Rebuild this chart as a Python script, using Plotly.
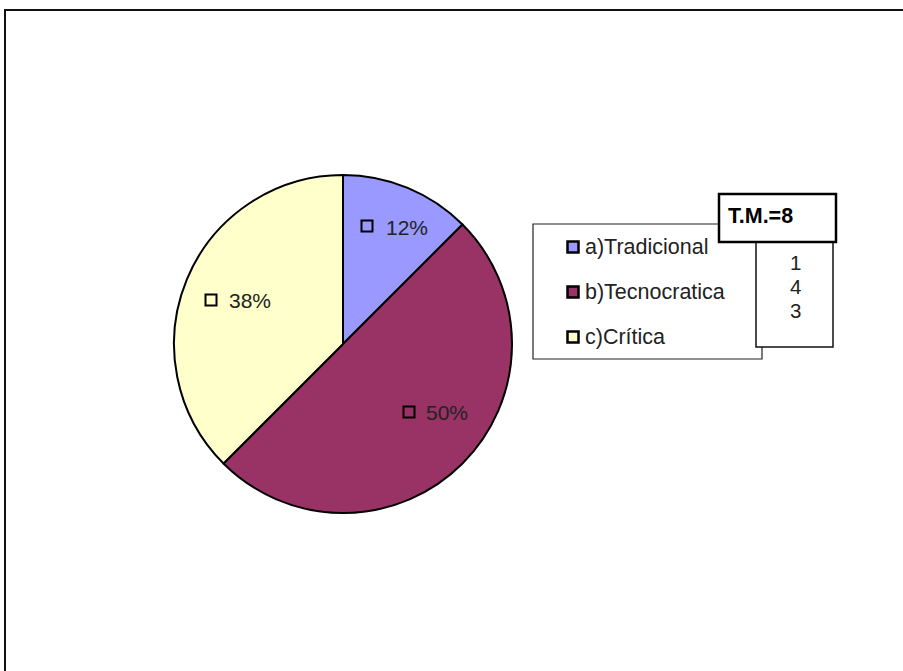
import plotly.graph_objects as go

W, H = 903, 671

categories = ["a)Tradicional", "b)Tecnocratica", "c)Crítica"]
values = [1, 4, 3]
colors = ["#9999FF", "#993366", "#FFFFCC"]
total_label = "T.M.="
total = sum(values)
pct_labels = [f"{round(100 * v / total)}%" for v in values]

FONT = "Liberation Sans, Arial, sans-serif"
FS = 21.5


def X(px):
    return px / W


def Y(py):
    return 1 - py / H


fig = go.Figure()
fig.add_trace(go.Pie(
    labels=categories,
    values=values,
    sort=False,
    direction="clockwise",
    rotation=0,
    marker=dict(colors=colors, line=dict(color="#000000", width=2)),
    textinfo="none",
    hoverinfo="label+value+percent",
    showlegend=False,
    domain=dict(x=[X(174), X(512)], y=[Y(513), Y(175)]),
))

shapes = []
annotations = []

# outer chart border
shapes.append(dict(type="rect", xref="paper", yref="paper",
                   x0=X(5), x1=X(915), y0=Y(690), y1=Y(10),
                   line=dict(color="#111111", width=2), fillcolor="rgba(0,0,0,0)"))

# data labels (square key + percent), in category order a, b, c
label_pos = [(367, 226, 384), (409, 412, 424), (211, 300, 227)]
for (sx, sy, tx), col, txt in zip(label_pos, colors, pct_labels):
    shapes.append(dict(type="rect", xref="paper", yref="paper",
                       x0=X(sx - 5.5), x1=X(sx + 5.5), y0=Y(sy + 5.5), y1=Y(sy - 5.5),
                       line=dict(color="#000000", width=2), fillcolor=col))
    annotations.append(dict(xref="paper", yref="paper", x=X(tx), y=Y(sy + 1),
                            text=txt, showarrow=False, xanchor="left", yanchor="middle",
                            font=dict(family=FONT, size=FS - 0.5, color="#222222")))

# legend box
shapes.append(dict(type="rect", xref="paper", yref="paper",
                   x0=X(533), x1=X(762), y0=Y(359), y1=Y(224),
                   line=dict(color="#222222", width=1.2), fillcolor="#FFFFFF"))
legend_rows = [247, 292, 337]
for ry, col, cat in zip(legend_rows, colors, categories):
    shapes.append(dict(type="rect", xref="paper", yref="paper",
                       x0=X(567.5), x1=X(578.5), y0=Y(ry + 5.5), y1=Y(ry - 5.5),
                       line=dict(color="#000000", width=2.5), fillcolor=col))
    annotations.append(dict(xref="paper", yref="paper", x=X(583), y=Y(ry),
                            text=cat, showarrow=False, xanchor="left", yanchor="middle",
                            font=dict(family=FONT, size=FS, color="#222222")))

# values box
shapes.append(dict(type="rect", xref="paper", yref="paper",
                   x0=X(756), x1=X(833), y0=Y(347), y1=Y(242),
                   line=dict(color="#111111", width=1.5), fillcolor="#FFFFFF"))
val_rows = [262, 286, 310]
for ry, v in zip(val_rows, values):
    annotations.append(dict(xref="paper", yref="paper", x=X(795), y=Y(ry),
                            text=str(v), showarrow=False, xanchor="center", yanchor="middle",
                            font=dict(family=FONT, size=FS - 1, color="#222222")))

# total header box
shapes.append(dict(type="rect", xref="paper", yref="paper",
                   x0=X(719), x1=X(836), y0=Y(242), y1=Y(194),
                   line=dict(color="#000000", width=2.5), fillcolor="#FFFFFF"))
annotations.append(dict(xref="paper", yref="paper", x=X(726), y=Y(216),
                        text=f"<b>{total_label}{total}</b>", showarrow=False,
                        xanchor="left", yanchor="middle",
                        font=dict(family=FONT, size=FS, color="#000000")))

fig.update_layout(
    width=W, height=H, autosize=False,
    margin=dict(l=0, r=0, t=0, b=0),
    paper_bgcolor="#FFFFFF", plot_bgcolor="#FFFFFF",
    shapes=shapes, annotations=annotations,
    font=dict(family=FONT),
)

fig.write_html("out.html",
               config={"displayModeBar": False},
               post_script="document.body.style.margin='0';document.body.style.overflow='hidden';")
